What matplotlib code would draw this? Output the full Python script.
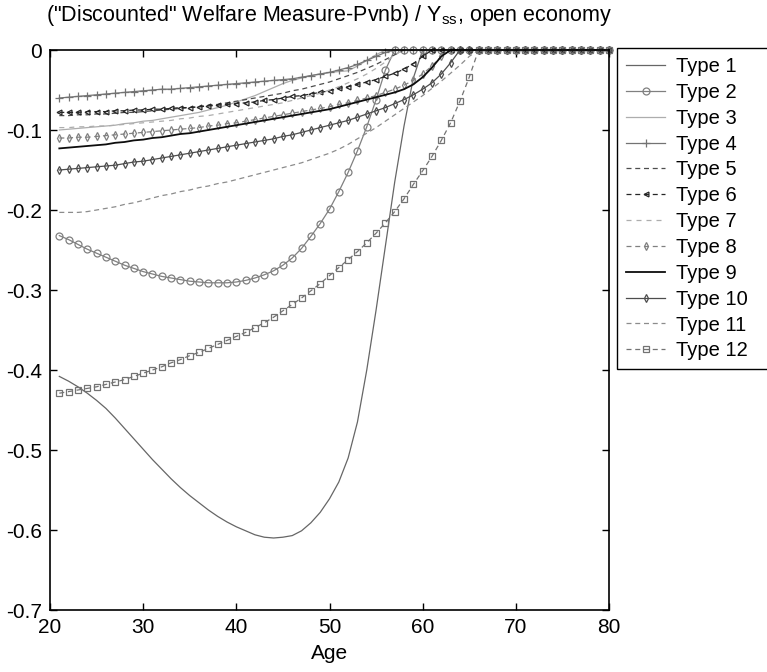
import matplotlib
matplotlib.use("Agg")
import matplotlib.pyplot as plt

plt.rcParams['font.family'] = ['Liberation Sans', 'DejaVu Sans']
plt.rcParams['axes.unicode_minus'] = False

# ages 21..80, one value per year (curves sit at 0 once they reach it)
age = list(range(21, 81))

type1 = [-0.408, -0.414, -0.421, -0.429, -0.438, -0.448, -0.460, -0.473, -0.486, -0.499,
         -0.512, -0.524, -0.536, -0.547, -0.557, -0.566, -0.575, -0.583, -0.590, -0.596,
         -0.601, -0.606, -0.609, -0.610, -0.609, -0.607, -0.601, -0.591, -0.578, -0.561,
         -0.540, -0.510, -0.465, -0.400, -0.325, -0.245, -0.165, -0.095, -0.035, 0.0]
type2 = [-0.232, -0.237, -0.243, -0.249, -0.254, -0.259, -0.264, -0.269, -0.273, -0.277,
         -0.280, -0.283, -0.285, -0.287, -0.289, -0.290, -0.291, -0.291, -0.291, -0.290,
         -0.288, -0.285, -0.281, -0.276, -0.269, -0.260, -0.248, -0.233, -0.217, -0.199,
         -0.177, -0.153, -0.126, -0.096, -0.062, -0.025, 0.0]
type3 = [-0.100, -0.099, -0.098, -0.097, -0.096, -0.095, -0.094, -0.092, -0.091, -0.089,
         -0.088, -0.086, -0.084, -0.082, -0.080, -0.078, -0.075, -0.072, -0.069, -0.065,
         -0.061, -0.057, -0.052, -0.047, -0.042, -0.038, -0.035, -0.032, -0.030, -0.028,
         -0.027, -0.026, -0.020, -0.013, -0.006, 0.0]
type4 = [-0.060, -0.059, -0.058, -0.057, -0.056, -0.055, -0.054, -0.053, -0.052, -0.051,
         -0.050, -0.049, -0.049, -0.048, -0.047, -0.046, -0.045, -0.044, -0.043, -0.042,
         -0.041, -0.040, -0.039, -0.038, -0.037, -0.036, -0.034, -0.032, -0.030, -0.028,
         -0.025, -0.022, -0.018, -0.013, -0.008, -0.003, 0.0]
type5 = [-0.082, -0.082, -0.081, -0.081, -0.080, -0.080, -0.079, -0.078, -0.078, -0.077,
         -0.076, -0.075, -0.074, -0.073, -0.072, -0.071, -0.069, -0.068, -0.066, -0.064,
         -0.062, -0.060, -0.058, -0.056, -0.054, -0.051, -0.049, -0.046, -0.043, -0.040,
         -0.036, -0.032, -0.028, -0.023, -0.018, -0.012, -0.006, 0.0]
type6 = [-0.078, -0.078, -0.078, -0.077, -0.077, -0.077, -0.076, -0.076, -0.075, -0.075,
         -0.074, -0.074, -0.073, -0.072, -0.072, -0.071, -0.070, -0.069, -0.068, -0.067,
         -0.066, -0.065, -0.063, -0.062, -0.060, -0.058, -0.057, -0.055, -0.053, -0.051,
         -0.048, -0.046, -0.043, -0.040, -0.037, -0.033, -0.029, -0.024, -0.017, -0.008, 0.0]
type7 = [-0.097, -0.097, -0.096, -0.096, -0.095, -0.095, -0.094, -0.093, -0.092, -0.091,
         -0.090, -0.089, -0.088, -0.086, -0.085, -0.083, -0.082, -0.080, -0.078, -0.076,
         -0.074, -0.072, -0.070, -0.068, -0.066, -0.063, -0.060, -0.057, -0.054, -0.050,
         -0.046, -0.041, -0.036, -0.030, -0.023, -0.015, -0.006, 0.0]
type8 = [-0.110, -0.110, -0.109, -0.109, -0.108, -0.107, -0.106, -0.105, -0.104, -0.103,
         -0.102, -0.101, -0.100, -0.099, -0.098, -0.097, -0.095, -0.094, -0.092, -0.091,
         -0.089, -0.087, -0.085, -0.083, -0.081, -0.079, -0.077, -0.075, -0.073, -0.071,
         -0.068, -0.066, -0.063, -0.060, -0.057, -0.053, -0.049, -0.044, -0.038, -0.030,
         -0.020, -0.008, 0.0]
type9 = [-0.123, -0.122, -0.121, -0.120, -0.119, -0.118, -0.116, -0.115, -0.113, -0.112,
         -0.110, -0.109, -0.107, -0.105, -0.104, -0.102, -0.100, -0.098, -0.096, -0.094,
         -0.092, -0.090, -0.088, -0.086, -0.084, -0.082, -0.080, -0.078, -0.076, -0.074,
         -0.071, -0.068, -0.065, -0.062, -0.059, -0.056, -0.053, -0.049, -0.043, -0.034,
         -0.022, -0.008, 0.0]
type10 = [-0.150, -0.149, -0.148, -0.147, -0.146, -0.145, -0.144, -0.142, -0.140, -0.139,
          -0.137, -0.135, -0.133, -0.131, -0.129, -0.127, -0.125, -0.123, -0.121, -0.119,
          -0.117, -0.115, -0.113, -0.111, -0.108, -0.106, -0.103, -0.100, -0.097, -0.094,
          -0.091, -0.088, -0.084, -0.080, -0.076, -0.072, -0.067, -0.062, -0.056, -0.049,
          -0.041, -0.030, -0.016, 0.0]
type11 = [-0.203, -0.203, -0.203, -0.202, -0.200, -0.198, -0.196, -0.193, -0.191, -0.188,
          -0.185, -0.182, -0.180, -0.177, -0.175, -0.172, -0.170, -0.167, -0.165, -0.162,
          -0.159, -0.156, -0.153, -0.150, -0.147, -0.144, -0.141, -0.137, -0.133, -0.129,
          -0.124, -0.118, -0.111, -0.104, -0.097, -0.089, -0.081, -0.073, -0.065, -0.057,
          -0.048, -0.039, -0.029, -0.019, -0.008, 0.0]
type12 = [-0.429, -0.427, -0.425, -0.423, -0.421, -0.418, -0.415, -0.412, -0.408, -0.404,
          -0.400, -0.396, -0.391, -0.387, -0.382, -0.378, -0.373, -0.368, -0.363, -0.358,
          -0.353, -0.347, -0.341, -0.334, -0.326, -0.318, -0.310, -0.301, -0.292, -0.282,
          -0.272, -0.262, -0.252, -0.241, -0.229, -0.216, -0.202, -0.186, -0.168, -0.151,
          -0.133, -0.113, -0.091, -0.064, -0.034, 0.0]

series = [type1, type2, type3, type4, type5, type6, type7, type8, type9, type10, type11, type12]
labels = ['Type %d' % (i + 1) for i in range(12)]

xticks = [20, 30, 40, 50, 60, 70, 80]
yticks = [0, -0.1, -0.2, -0.3, -0.4, -0.5, -0.6, -0.7]
ytick_labels = ['0', '-0.1', '-0.2', '-0.3', '-0.4', '-0.5', '-0.6', '-0.7']

# (linestyle, color, marker, markersize, linewidth)
styles = [
    ('-', '0.40', None, 0, 0.9),
    ('-', '0.50', 'o', 5, 0.9),
    ('-', '0.68', None, 0, 0.9),
    ('-', '0.45', '+', 6, 0.9),
    ((0, (4, 3)), '0.30', None, 0, 0.9),
    ((0, (4, 3)), '0.15', '<', 3.5, 0.9),
    ((0, (4, 4)), '0.68', None, 0, 0.9),
    ((0, (4, 3)), '0.50', 'd', 4, 0.9),
    ('-', '0.05', None, 0, 1.3),
    ('-', '0.30', 'd', 4, 0.9),
    ((0, (4, 3)), '0.55', None, 0, 0.9),
    ((0, (4, 3)), '0.45', 's', 5, 0.9),
]

fig = plt.figure(figsize=(7.67, 6.72), dpi=100)
ax = fig.add_axes([50 / 767, 1 - 610 / 672, 559 / 767, 560 / 672])

for vals, lab, (ls, col, mk, ms, lw) in zip(series, labels, styles):
    y = vals + [0.0] * (len(age) - len(vals))
    ax.plot(age, y, linestyle=ls, color=col, marker=mk, markersize=ms,
            markerfacecolor='none', markeredgecolor=col, markeredgewidth=0.9,
            linewidth=lw, label=lab, clip_on=False)

ax.set_xlim(20, 80)
ax.set_ylim(-0.7, 0)
ax.set_xticks(xticks)
ax.set_yticks(yticks)
ax.set_yticklabels(ytick_labels)
ax.tick_params(direction='in', length=5, width=1, top=True, right=True,
               labelsize=15, pad=6)
for s in ax.spines.values():
    s.set_linewidth(1.2)
ax.set_xlabel('Age', fontsize=15, labelpad=5)
ax.set_title('("Discounted" Welfare Measure-Pvnb) / Y$_{\\mathregular{ss}}$, open economy',
             fontsize=15.5, pad=21)

# legend box runs past the right edge of the picture, as in the original
fig.legend(loc='upper left', bbox_to_anchor=(617 / 767, 0.0, 0.26, 1 - 48 / 672),
           mode='expand', fontsize=14.5,
           frameon=True, fancybox=False, edgecolor='black', framealpha=1,
           borderaxespad=0, borderpad=0.45, labelspacing=0.34, handlelength=1.95,
           handletextpad=0.55)

fig.savefig('out.png', dpi=100)
